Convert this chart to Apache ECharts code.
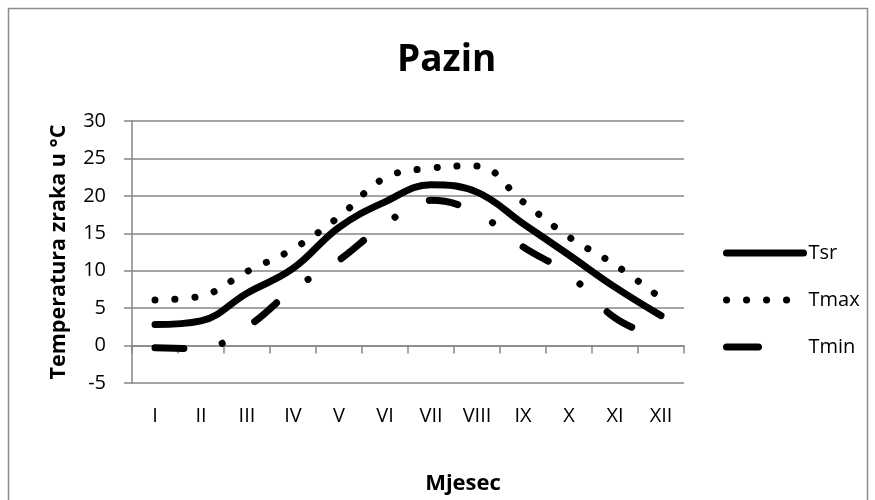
<!DOCTYPE html>
<html>
<head>
<meta charset="utf-8">
<script src="https://cdn.jsdelivr.net/npm/echarts@6/dist/echarts.min.js"></script>
<style>
  html, body { margin: 0; padding: 0; background: #ffffff; }
  #chart { width: 875px; height: 500px; }
</style>
</head>
<body>
<div id="chart"></div>
<script>
// Monthly air temperatures for Pazin (°C)
const months = ['I', 'II', 'III', 'IV', 'V', 'VI', 'VII', 'VIII', 'IX', 'X', 'XI', 'XII'];
const tsr  = [2.8, 3.3, 7.0, 10.3, 15.8, 19.2, 21.5, 20.5, 16.3, 12.1, 7.8, 4.0];
const tmax = [6.1, 6.6, 9.9, 12.9, 17.2, 22.4, 23.7, 24.0, 19.2, 14.5, 10.8, 6.3];
const tmin = [-0.3, -0.4, 2.5, 7.5, 11.4, 16.2, 19.4, 17.7, 13.2, 9.5, 3.7, 0.9];
const yMin = -5;
const yMax = 30;
const yStep = 5;

const FONT = '"Open Sans", "Liberation Sans", sans-serif';
const GRID_GRAY = '#868686';
const SMOOTH = 0.4;

const chart = echarts.init(document.getElementById('chart'), null, { renderer: 'canvas' });

chart.setOption({
  animation: false,
  backgroundColor: '#ffffff',
  graphic: [{
    type: 'rect',
    shape: { x: 8.5, y: 8.5, width: 859, height: 520 },
    style: { fill: 'none', stroke: '#8c8c8c', lineWidth: 1.5 },
    silent: true
  }],
  title: {
    text: 'Pazin',
    left: 392,
    top: 37,
    textStyle: { fontFamily: FONT, fontWeight: 'bold', fontSize: 37, color: '#000' }
  },
  legend: {
    orient: 'vertical',
    left: 718,
    top: 238,
    itemWidth: 77,
    itemHeight: 20,
    itemGap: 27,
    data: [
      { name: 'Tsr' },
      { name: 'Tmax' },
      // the key shows only the long dash of the pattern
      { name: 'Tmin', lineStyle: { type: [32, 100] } }
    ],
    lineStyle: { width: 'inherit' },
    itemStyle: { color: 'rgba(0,0,0,0)', borderWidth: 0, opacity: 0 },
    textStyle: { fontFamily: FONT, fontSize: 20, color: '#000' }
  },
  grid: { left: 132, right: 191, top: 121, bottom: 116 },
  xAxis: {
    type: 'category',
    data: months,
    boundaryGap: true,
    name: 'Mjesec',
    nameLocation: 'middle',
    nameGap: 90,
    nameTextStyle: {
      fontFamily: FONT, fontWeight: 'bold', fontSize: 22, color: '#000',
      padding: [0, 0, 0, 110]
    },
    axisLine: { show: true, lineStyle: { color: GRID_GRAY, width: 1.5 } },
    axisTick: { show: true, length: 8, lineStyle: { color: GRID_GRAY, width: 1.5 } },
    axisLabel: { margin: 23, fontFamily: FONT, fontSize: 20, color: '#000' },
    splitLine: { show: false }
  },
  yAxis: {
    type: 'value',
    min: yMin,
    max: yMax,
    interval: yStep,
    name: 'Temperatura zraka u °C',
    nameLocation: 'middle',
    nameRotate: 90,
    nameGap: 62,
    nameTextStyle: { fontFamily: FONT, fontWeight: 'bold', fontSize: 21.5, color: '#000' },
    axisLine: { show: true, lineStyle: { color: GRID_GRAY, width: 1.5 } },
    axisTick: { show: true, length: 8, lineStyle: { color: GRID_GRAY, width: 1.5 } },
    axisLabel: { margin: 26, fontFamily: FONT, fontSize: 20, color: '#000' },
    splitLine: { show: true, lineStyle: { color: GRID_GRAY, width: 1.5 } }
  },
  series: [
    {
      name: 'Tsr',
      type: 'line',
      data: tsr,
      smooth: SMOOTH,
      symbol: 'none',
      itemStyle: { color: '#000' },
      lineStyle: { color: '#000', width: 7, cap: 'round', join: 'round' },
      z: 3
    },
    {
      name: 'Tmax',
      type: 'line',
      data: tmax,
      smooth: SMOOTH,
      symbol: 'none',
      itemStyle: { color: '#000' },
      lineStyle: { color: '#000', width: 7, type: [0.1, 19.9], cap: 'round' },
      z: 2
    },
    {
      name: 'Tmin',
      type: 'line',
      data: tmin,
      smooth: SMOOTH,
      symbol: 'none',
      itemStyle: { color: '#000' },
      lineStyle: { color: '#000', width: 7, type: [29, 39, 0.1, 39], cap: 'round' },
      z: 2
    }
  ]
});
</script>
</body>
</html>
